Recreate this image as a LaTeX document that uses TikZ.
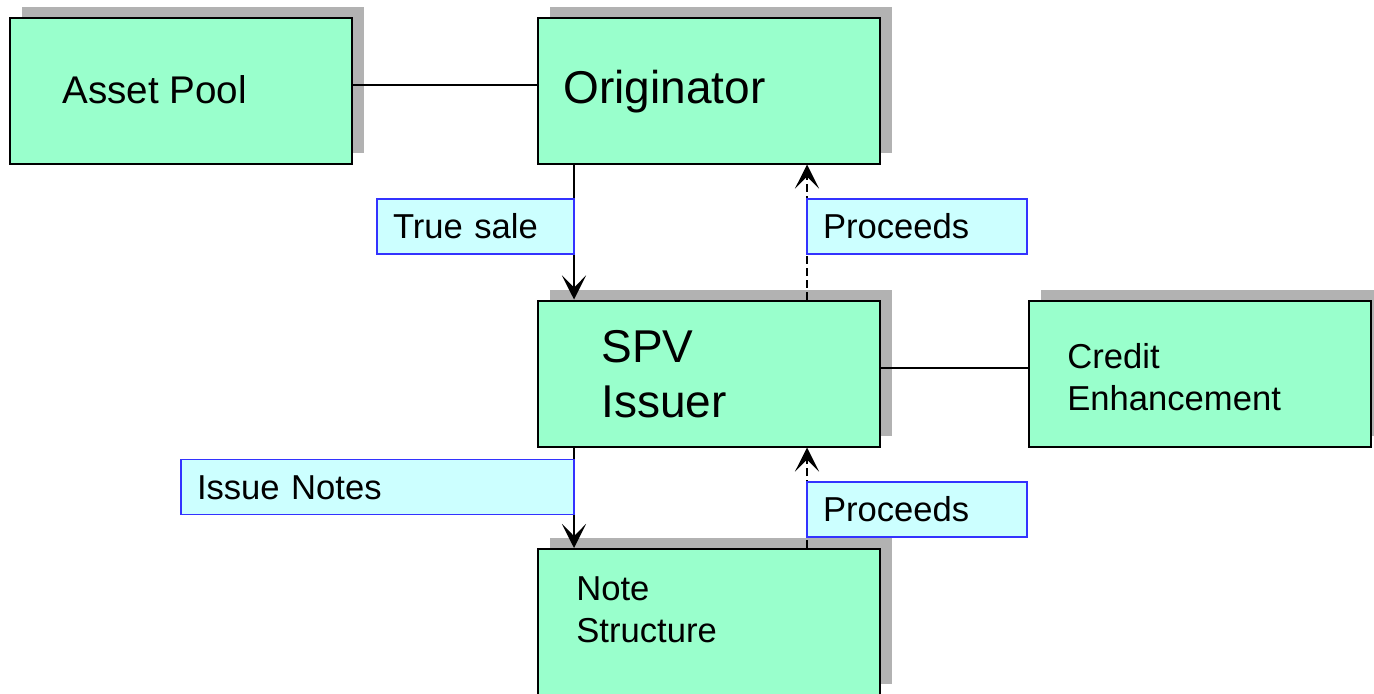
\documentclass[tikz,border=0pt]{standalone}
\usepackage{fontspec}
\setmainfont{Liberation Sans}
\usetikzlibrary{arrows.meta,shadows}
\definecolor{boxgreen}{RGB}{153,255,204}
\definecolor{shadowgray}{RGB}{178,178,178}
\definecolor{labelcyan}{RGB}{204,255,255}
\definecolor{labelblue}{RGB}{51,51,255}
\tikzset{
  mainbox/.style={draw=black, line width=1pt, fill=boxgreen,
    minimum width=171pt, minimum height=73pt, inner sep=0pt,
    general shadow={fill=shadowgray, shadow xshift=6pt, shadow yshift=5.5pt}},
  bigtext/.style={anchor=base west, inner sep=0pt, font=\fontsize{23}{28}\selectfont},
  midtext/.style={anchor=base west, inner sep=0pt, font=\fontsize{19.3}{23}\selectfont},
  smalltext/.style={anchor=base west, inner sep=0pt, font=\fontsize{17.3}{21}\selectfont},
  labelbox/.style={draw=labelblue, line width=0.7pt, fill=labelcyan,
    minimum height=27.5pt, inner xsep=8pt, inner ysep=0pt, align=left,
    text height=12.4pt, text depth=0pt, font=\fontsize{17.3}{21}\selectfont},
  plainline/.style={line width=0.75pt},
  flowarrow/.style={line width=1.3pt, -{Stealth[length=12pt 0, width=12pt 0, inset=6pt 0]}},
  dasharrow/.style={flowarrow, dash pattern=on 4pt off 2pt},
}
\begin{document}
\begin{tikzpicture}[x=0.5pt, y=-0.5pt]
\clip (0,0) rectangle (1374,693);
\fill[white] (0,0) rectangle (1374,693);

% boxes
\node[mainbox] (asset) at (181,90.5) {};
\node[mainbox] (orig) at (709,90.5) {};
\node[mainbox] (spv) at (709,373.5) {};
\node[mainbox] (credit) at (1200,373.5) {};
\node[mainbox] (note) at (709,622) {};

% box texts
\node[midtext] (assettxt) at (62,103.5) {Asset Pool};
\node[bigtext] (origtxt) at (563,103.5) {Originator};
\node[bigtext] (spvtxt1) at (601,362) {SPV};
\node[bigtext] (spvtxt2) at (601,417) {Issuer};
\node[smalltext] (credtxt1) at (1067,368.5) {Credit};
\node[smalltext] (credtxt2) at (1067,410.5) {Enhancement};
\node[smalltext] (notetxt1) at (576,600) {Note};
\node[smalltext] (notetxt2) at (576,642) {Structure};

% plain connectors
\draw[plainline] (asset.east |- 0,85) -- (orig.west |- 0,85);
\draw[plainline] (spv.east |- 0,368) -- (credit.west |- 0,368);

% arrows
\coordinate (a1s) at (574,164);
\coordinate (a1e) at (574,300);
\draw[flowarrow] (orig.south -| a1s) -- (spv.north -| a1e);
\draw[dasharrow] (spv.north -| 807,0) -- (orig.south -| 807,0);
\draw[flowarrow] (spv.south -| a1s) -- (note.north -| a1e);
\draw[dasharrow] (note.north -| 807,0) -- (spv.south -| 807,0);

% labels
\node[labelbox, text width=82.5pt] (truesale) at (475.5,226.5) {True sale};
\node[labelbox, text width=94pt] (proc1) at (917,226.5) {Proceeds};
\node[labelbox, text width=180.5pt] (issue) at (377.5,487) {Issue Notes};
\node[labelbox, text width=94pt] (proc2) at (917,509.5) {Proceeds};
\end{tikzpicture}
\end{document}
